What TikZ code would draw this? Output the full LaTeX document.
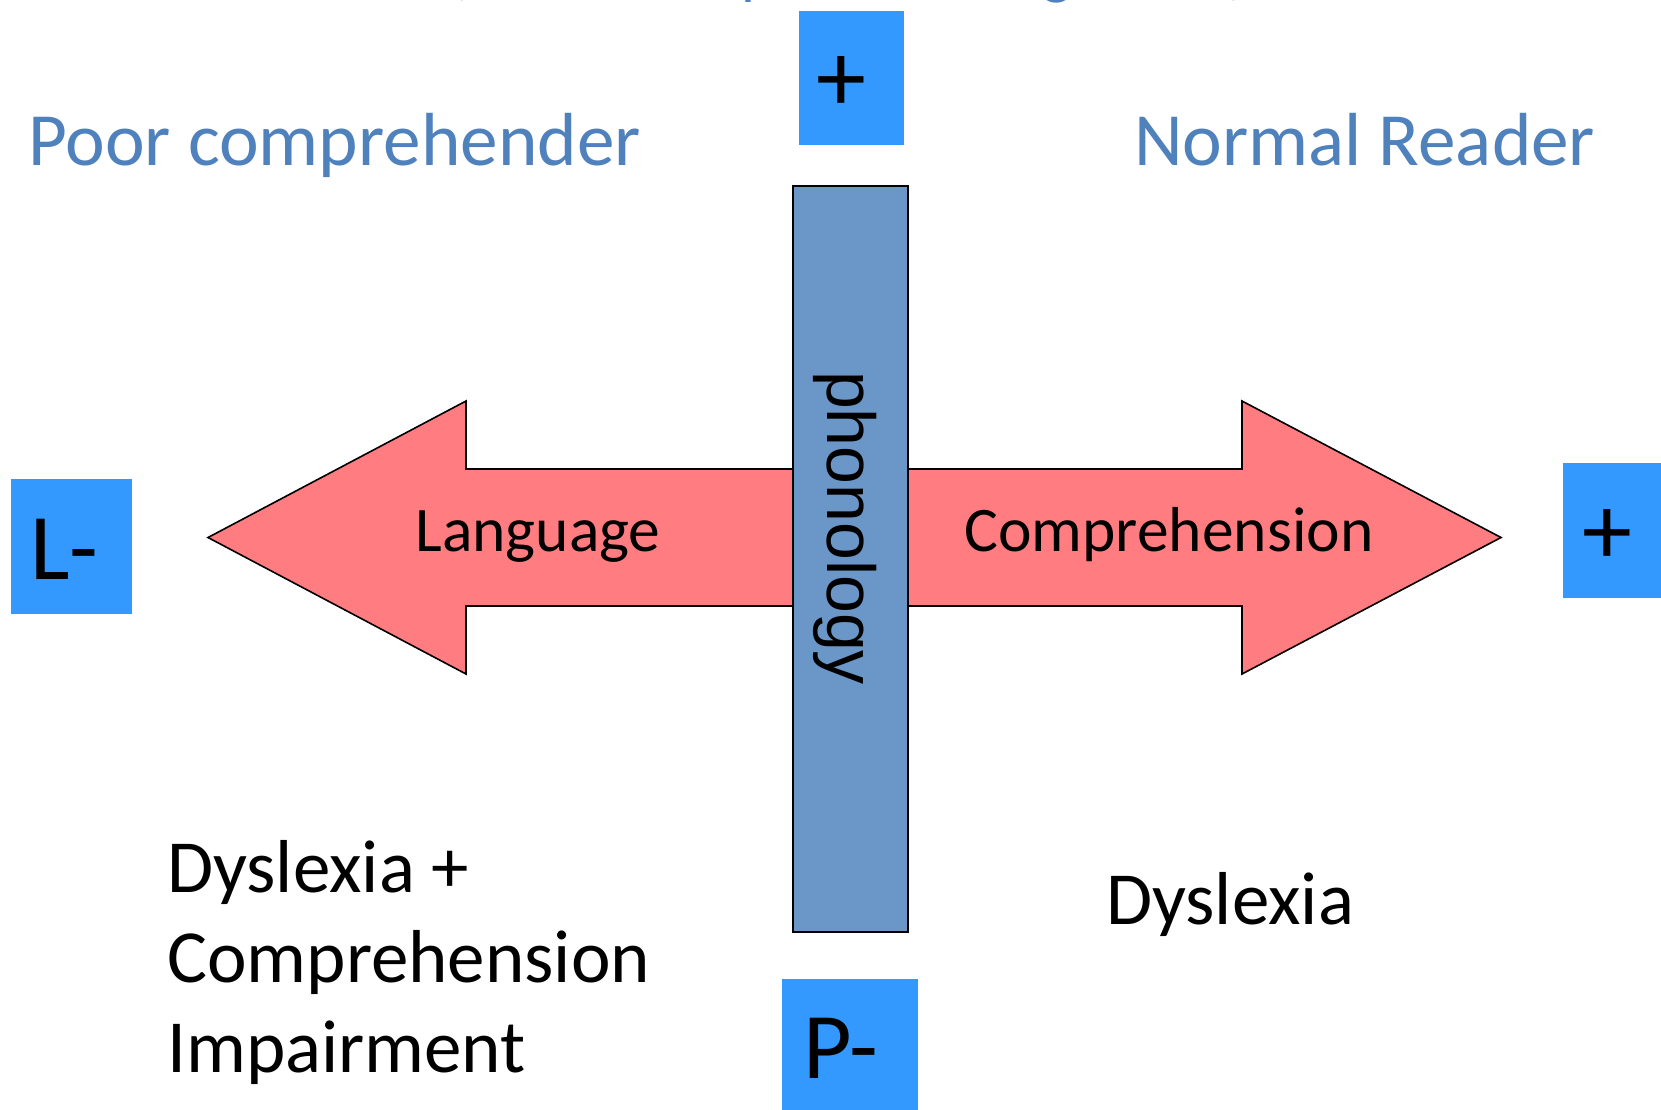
\documentclass[tikz,border=0pt]{standalone}
\usepackage{fontspec}
\setmainfont{Carlito}
\newfontfamily\phonfont{Liberation Sans}
\definecolor{boxblue}{HTML}{3399FF}
\definecolor{barblue}{HTML}{6A96C8}
\definecolor{arrowred}{HTML}{FF7C80}
\definecolor{titleblue}{HTML}{4F81BD}
\begin{document}
\begin{tikzpicture}[x=1pt,y=-1pt,
  signbox/.style={fill=boxblue, draw=none, inner sep=0pt, rectangle},
  signtext/.style={font=\fontsize{94}{104}\selectfont, inner sep=0pt, text=black},
  plustext/.style={font=\fontsize{100}{110}\selectfont, inner sep=0pt, text=black},
  headtext/.style={font=\fontsize{75.2}{90}\selectfont, text=titleblue, inner sep=0pt},
  bodytext/.style={font=\fontsize{75}{90}\selectfont, text=black, inner sep=0pt},
  arrowtext/.style={font=\fontsize{63.5}{75}\selectfont, text=black, inner sep=0pt},
  arrowshape/.style={fill=arrowred, draw=black, line width=1.6pt, line join=miter},
  barshape/.style={fill=barblue, draw=black, line width=1.6pt, rectangle, inner sep=0pt}]
\useasboundingbox (0,0) rectangle (1661,1109);
\fill[white] (0,0) rectangle (1661,1109);

% title, cut off at the very top
\begin{scope}
  \clip (0,0) rectangle (1661,1109);
  \node[font=\fontsize{62}{70}\selectfont, text=titleblue, anchor=base, inner sep=0pt] (title) at (848,-7.5) {(from Bishop \& Snowling, 2004)};
\end{scope}

% double arrow (under the bar)
\draw[arrowshape] (208,537.5) -- (466,401) -- (466,469) -- (1242,469) -- (1242,401)
  -- (1501,537.5) -- (1242,674) -- (1242,606) -- (466,606) -- (466,674) -- cycle;
\node[arrowtext, anchor=base] (lang) at (538,551) {Language};
\node[arrowtext, anchor=base] (compr) at (1169,551) {Comprehension};

% phonology bar
\node[barshape, minimum width=115pt, minimum height=746pt] (bar) at (850.5,559) {};
\node[font=\phonfont\fontsize{68}{80}\selectfont, rotate=-90, inner sep=0pt] (phon) at (845,528) {phonology};

% sign boxes
\node[signbox, minimum width=105pt, minimum height=134pt] (topbox) at (851.5,78) {};
\node[plustext] (topplus) at (841,84) {+};
\node[signbox, minimum width=121pt, minimum height=135pt] (lbox) at (71.5,546.5) {};
\node[signtext, anchor=base west] (lminus) at (30,579) {L-};
\node[signbox, minimum width=105pt, minimum height=135pt] (rbox) at (1615.5,530.5) {};
\node[plustext] (rplus) at (1607,537) {+};
\node[signbox, minimum width=136pt, minimum height=134pt] (pbox) at (850,1046) {};
\node[signtext, anchor=base west] (pminus) at (803,1078) {P-};

% quadrant labels
\node[headtext, anchor=base west] (poor) at (28,165) {Poor comprehender};
\node[headtext, anchor=base west] (normal) at (1134,165) {Normal Reader};
\node[bodytext, anchor=base west] (dc1) at (167,892) {Dyslexia +};
\node[bodytext, anchor=base west] (dc2) at (167,982) {Comprehension};
\node[bodytext, anchor=base west] (dc3) at (167,1072) {Impairment};
\node[bodytext, anchor=base west] (dys) at (1106,924) {Dyslexia};
\end{tikzpicture}
\end{document}
